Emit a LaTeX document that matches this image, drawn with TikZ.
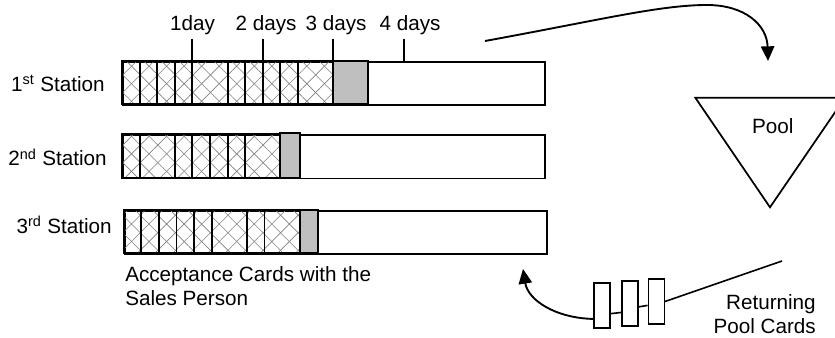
\documentclass[tikz,border=0pt]{standalone}
\usepackage{fontspec}
\setmainfont{Liberation Sans}
\usetikzlibrary{arrows.meta,patterns.meta}

\begin{document}
\begin{tikzpicture}[x=0.75pt,y=-0.75pt,
    font=\fontsize{15.5}{18}\selectfont,
    hatchcell/.style={draw, line width=1.4pt,
        preaction={pattern={Lines[angle=45,distance=9.3pt,line width=0.45pt]}, pattern color=black!50},
        pattern={Lines[angle=-45,distance=9.3pt,line width=0.45pt]}, pattern color=black!50},
    greycell/.style={draw, line width=1.4pt, fill=black!25},
    bar/.style={draw, line width=1.4pt, anchor=north west, inner sep=0pt},
    card/.style={draw, line width=1.1pt, fill=white, inner sep=0pt, minimum width=12pt, minimum height=33.75pt},
    flow/.style={line width=1.4pt, -{Triangle[length=11pt,width=10pt]}}]
    \clip (0,0) rectangle (835,338);

    % Stations
    \node[bar, minimum width=316.5pt, minimum height=32.25pt] (bar1) at (122,61) {};
    \node[bar, minimum width=316.5pt, minimum height=32.5pt] (bar2) at (122,134.3) {};
    \node[bar, minimum width=316.7pt, minimum height=32.5pt] (bar3) at (123.7,210) {};
    \node[anchor=base east, inner sep=0pt] (st1) at (105,91.7) {1\textsuperscript{st} Station};
    \node[anchor=base east, inner sep=0pt] (st2) at (107,166) {2\textsuperscript{nd} Station};
    \node[anchor=base east, inner sep=0pt] (st3) at (112,233.3) {3\textsuperscript{rd} Station};

    % Cards in the 1st station
    \foreach \a/\b in {0/1,1/2,2/3,3/4,4/6,6/7,7/8,8/9,9/10,10/12}
        \draw[hatchcell] ({122+\a*17.6},61) rectangle ({122+\b*17.6},104);
    \draw[greycell] ({122+12*17.6},61) rectangle ({122+14*17.6},104);

    % Cards in the 2nd station
    \foreach \a/\b in {0/1,1/3,3/4,4/5,5/6,6/7,7/9}
        \draw[hatchcell] ({122+\a*17.6},134.3) rectangle ({122+\b*17.6},177.7);
    \draw[greycell] ({122+9*17.6},133.3) rectangle (300,177.7);

    % Cards in the 3rd station
    \foreach \a/\b in {0/1,1/2,2/3,3/4,4/5,5/7,7/8,8/10}
        \draw[hatchcell] ({123.7+\a*17.6},210) rectangle ({123.7+\b*17.6},253.3);
    \draw[greycell] ({123.7+10*17.6},210) rectangle (318.4,253.3);

    % Days
    \foreach \x/\lx/\t [count=\i] in {192.4/192.5/1day, 262.8/266/2 days, 333.2/336/3 days, 403.6/410/4 days} {
        \node[anchor=base, inner sep=0pt] (day\i) at (\lx,30.5) {\t};
        \draw[line width=1.4pt] (\x,39) -- (\x,61);
    }

    \node[anchor=north west, inner sep=0pt, align=left] (accept) at (125,266.5) {Acceptance Cards with the\\Sales Person};

    % Pool
    \draw[line width=1.3pt] (695.3,97.7) -- (845,97.7) -- (770,207.3) -- cycle;
    \node[anchor=base, inner sep=0pt] (pool) at (772.7,133.3) {Pool};
    \coordinate (out) at (485,41);
    \coordinate (into) at (768,61);
    \draw[flow] (out) .. controls (600,20) and (660,5) .. (707,5) .. controls (745,5) and (767,25) .. (into);

    % Returning cards
    \node[card] (card1) at (602,305.5) {};
    \node[card] (card2) at (630,303.7) {};
    \node[card] (card3) at (656.3,301.5) {};
    \coordinate (ret) at (782,261);
    \coordinate (back) at (523,269);
    \draw[line width=1.2pt] (ret) -- (card3.east);
    \draw[line width=1.2pt] (card3.204) -- (card2.-20);
    \draw[line width=1.2pt] (card2.225) -- (card1.-43);
    \draw[flow] (card1.237) .. controls (555,318) and (528,300) .. (back);
    \node[anchor=north east, inner sep=0pt, align=right] (retlabel) at (816,294.5) {Returning\\Pool Cards};
\end{tikzpicture}
\end{document}
